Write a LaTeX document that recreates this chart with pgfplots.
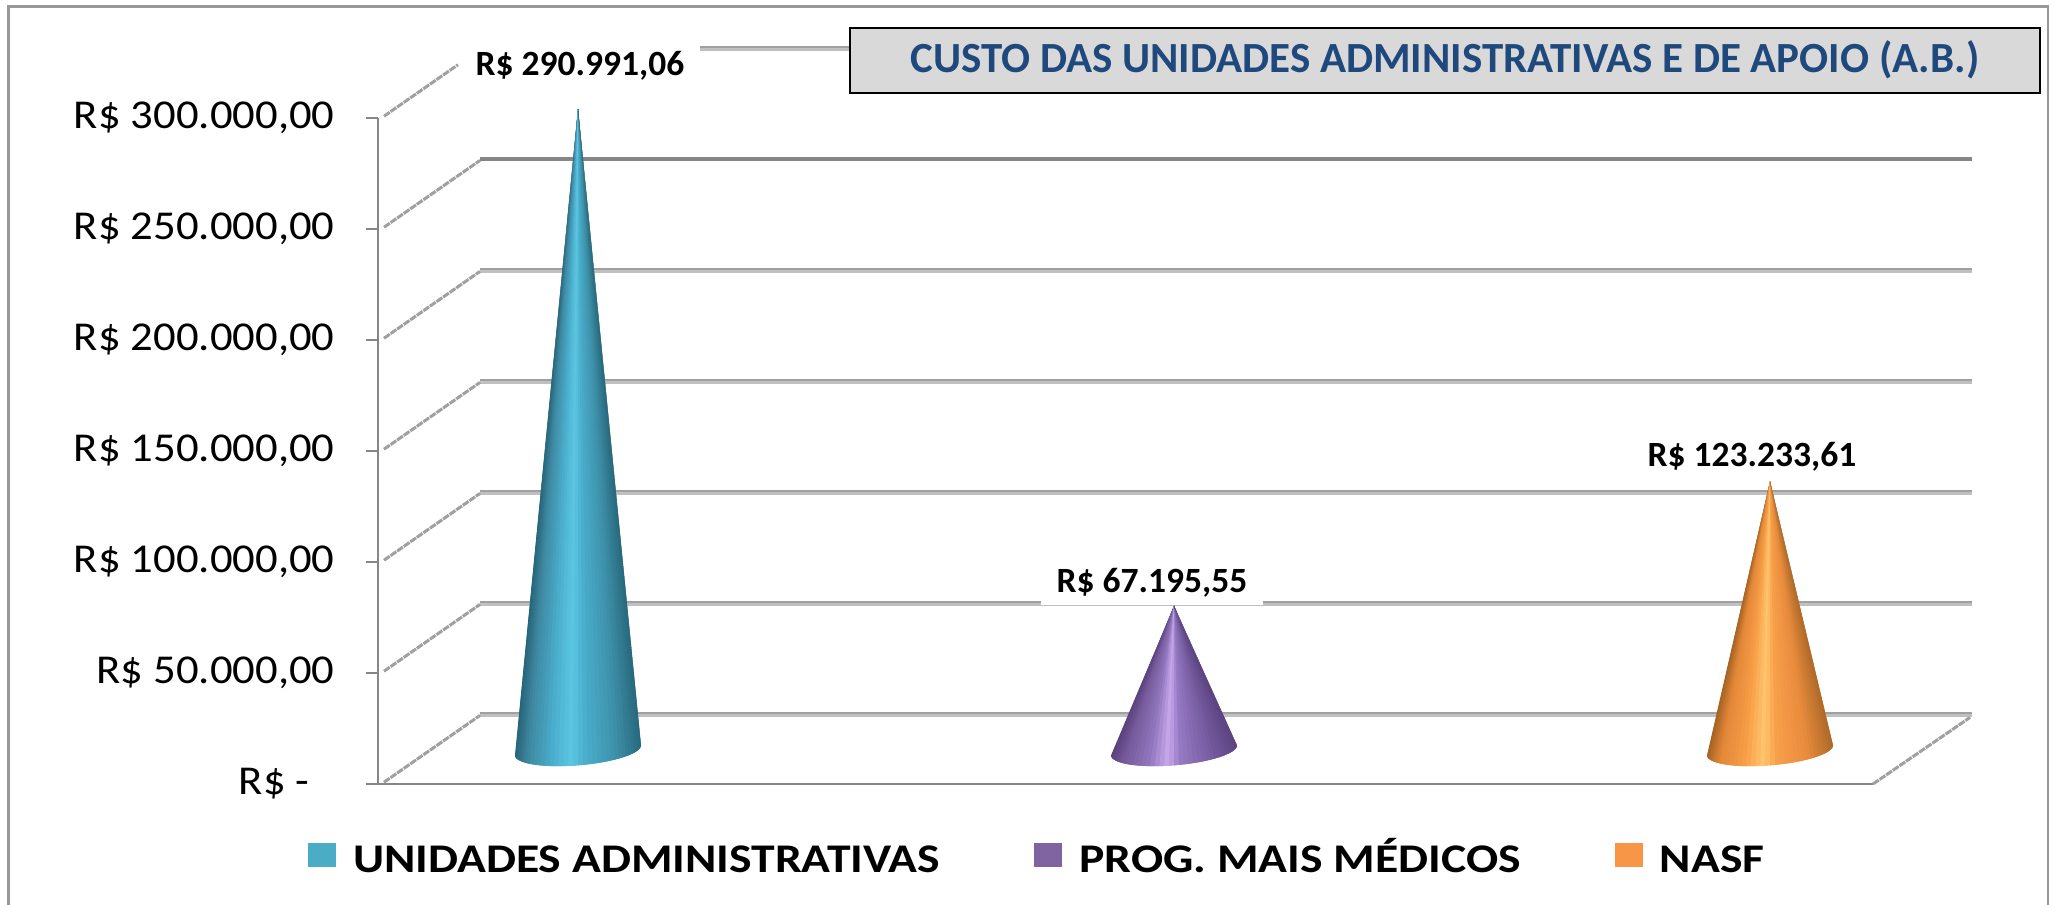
\documentclass[border=0pt]{standalone}
\usepackage{pgfplots}
\pgfplotsset{compat=1.18}
\usepackage{fontspec}
\setmainfont{Carlito}
\newfontfamily\tickf[FakeStretch=1.09]{Carlito}
\newfontfamily\legf[FakeStretch=1.17]{Carlito}[BoldFont=Carlito Bold]
\definecolor{gridA}{HTML}{A0A0A0}
\definecolor{gridB}{HTML}{C0C0C0}
\definecolor{axisG}{HTML}{868686}
\definecolor{titleB}{HTML}{1F497D}
\pgfplotsset{
 colormap={bluecone}{rgb255(0cm)=(40,105,125) rgb255(2cm)=(62,145,170) rgb255(4.5cm)=(74,175,205) rgb255(5.5cm)=(92,198,226) rgb255(7cm)=(74,175,205) rgb255(9cm)=(62,135,160) rgb255(10cm)=(38,100,120)},
 colormap={purplecone}{rgb255(0cm)=(92,68,130) rgb255(2cm)=(118,92,160) rgb255(4.5cm)=(150,122,195) rgb255(5.5cm)=(198,168,235) rgb255(7cm)=(145,118,190) rgb255(9cm)=(118,90,155) rgb255(10cm)=(90,66,125)},
 colormap={orangecone}{rgb255(0cm)=(176,106,40) rgb255(2cm)=(232,140,60) rgb255(4.5cm)=(248,160,75) rgb255(5.5cm)=(255,198,108) rgb255(7cm)=(248,158,72) rgb255(9cm)=(225,135,55) rgb255(10cm)=(165,98,35)},
}
% pixel-to-value: 50000 units = 111.3 px
\newcommand{\cone}[3]{%
 \begingroup\pgfkeys{/pgf/fpu=true,/pgf/fpu/output format=fixed}\pgfmathparse{#2+13000}\xdef\apex{\pgfmathresult}\endgroup
 \pgfplotsforeachungrouped \i in {0,...,39}{%
  \pgfmathsetmacro\ta{180-\i*4.5}%
  \pgfmathsetmacro\tb{max(0,180-(\i+2)*4.5)}%
  \pgfmathsetmacro\tc{180-(\i+0.5)*4.5}%
  \pgfmathsetmacro\xa{#1+63*cos(\ta)}%
  \pgfmathsetmacro\xb{#1+63*cos(\tb)}%
  \pgfmathsetmacro\ya{15.132-0.4492*(15*sin(\ta)-5*cos(\ta))}%
  \pgfmathsetmacro\yb{15.132-0.4492*(15*sin(\tb)-5*cos(\tb))}%
  \pgfmathsetmacro\f{500*(1-cos(\tc))}%
  \edef\temp{\noexpand\addplot[forget plot,draw=none,color of colormap={\f\space of #3},fill=.] coordinates {(#1,\apex) (\xa,\ya e3) (\xb,\yb e3)};}%
  \temp
 }%
}
% #1 back wall upper, #2 back wall lower, #3 side start, #4 side end
\newcommand{\gridline}[4]{%
 \addplot[forget plot,color=gridA,line width=2.4pt] coordinates {(480,#1) (1972,#1)};
 \addplot[forget plot,color=gridB,line width=2.4pt] coordinates {(480,#2) (1972,#2)};
 \addplot[forget plot,color=gridA,line width=3pt,dash pattern=on 7pt off 1pt] coordinates {(384,#3) (480,#4)};
}
\begin{document}
\begin{tikzpicture}
\path[use as bounding box] (0pt,0pt) rectangle (2051pt,-905pt);
\draw[color=axisG!85,line width=2.5pt] (8.5pt,-6.5pt) rectangle (2048pt,-908pt);
\begin{axis}[
 at={(378pt,-784pt)},anchor=south west,
 scale only axis,width=1495pt,height=666pt,
 xmin=378,xmax=1873,ymin=0,ymax=300000,
 clip=false,
 scaled y ticks=false,
 axis x line=bottom,axis y line=left,
 axis line style={color=axisG,line width=2.6pt,-},
 x axis line style={-},y axis line style={-},
 xtick=\empty,
 ytick={0,50000,100000,150000,200000,250000,300000},
 yticklabels={R\$ -\rule{25pt}{0pt},{R\$ 50.000,00},{R\$ 100.000,00},{R\$ 150.000,00},{R\$ 200.000,00},{R\$ 250.000,00},{R\$ 300.000,00}},
 tick align=outside,
 major tick length=12pt,
 tick style={color=axisG,line width=1.6pt},
 yticklabel style={font=\fontsize{41}{44}\selectfont\tickf,text=black,xshift=-28pt,anchor=east},
 legend columns=3,
 legend cell align=left,
 legend style={draw=none,fill=none,at={(-70pt,-71pt)},anchor=west,font=\fontsize{40.7}{44}\selectfont\legf\bfseries,inner sep=0pt,outer sep=0pt,
   /tikz/every even column/.append style={column sep=92pt}},
 legend image code/.code={\fill[#1,draw=none] (0pt,-12pt) rectangle (28pt,12pt);\path (43pt,0pt);},
]
\addlegendimage{fill={rgb,255:red,75;green,172;blue,198}}
\addlegendentry{\rule{0pt}{36pt}UNIDADES ADMINISTRATIVAS}
\addlegendimage{fill={rgb,255:red,128;green,100;blue,162}}
\addlegendentry{\rule{0pt}{36pt}PROG. MAIS MÉDICOS}
\addlegendimage{fill={rgb,255:red,247;green,150;blue,70}}
\addlegendentry{\rule{0pt}{36pt}NASF}
% walls
\gridline{31900}{30900}{800}{30900}
\gridline{81900}{80900}{50800}{80900}
\gridline{131900}{130900}{100800}{130900}
\gridline{181900}{180900}{150800}{180900}
\gridline{231900}{230900}{200800}{230900}
\addplot[forget plot,color=axisG,line width=4pt] coordinates {(480,281446) (1972,281446)};
\addplot[forget plot,color=gridA,line width=3pt,dash pattern=on 7pt off 1pt] coordinates {(384,250800) (480,280900)};
\addplot[forget plot,color=gridA,line width=2.4pt] coordinates {(480,331900) (1972,331900)};
\addplot[forget plot,color=gridB,line width=2.4pt] coordinates {(480,330900) (1972,330900)};
\addplot[forget plot,color=gridA,line width=3pt,dash pattern=on 7pt off 1pt] coordinates {(384,300800) (458,324000)};
\addplot[forget plot,color=gridA,line width=3pt,dash pattern=on 7pt off 1pt] coordinates {(1873,0) (1970,30000)};
% cones
\cone{578}{290991.06}{bluecone}
\cone{1174}{67195.55}{purplecone}
\cone{1770}{123233.61}{orangecone}
% data labels
\node[fill=white,inner sep=0pt,minimum width=239pt,minimum height=52pt,font=\fontsize{35.5}{38}\selectfont\bfseries] at (axis cs:580,323400) {R\$ 290.991,06};
\node[fill=white,inner sep=0pt,minimum width=222pt,minimum height=44pt,font=\fontsize{35.5}{38}\selectfont\bfseries] at (axis cs:1152,90740) {R\$ 67.195,55};
\node[inner sep=0pt,font=\fontsize{35.5}{38}\selectfont\bfseries] at (axis cs:1752,147500) {R\$ 123.233,61};
\end{axis}
\node[draw=black,line width=2pt,fill={rgb,255:red,217;green,217;blue,217},minimum width=1190pt,minimum height=65pt,inner sep=0pt,text=titleB,font=\fontsize{43}{46}\selectfont\bfseries] at (1445pt,-60pt) {\raisebox{-2pt}{CUSTO DAS UNIDADES ADMINISTRATIVAS E DE APOIO (A.B.)}};
\end{tikzpicture}
\end{document}
